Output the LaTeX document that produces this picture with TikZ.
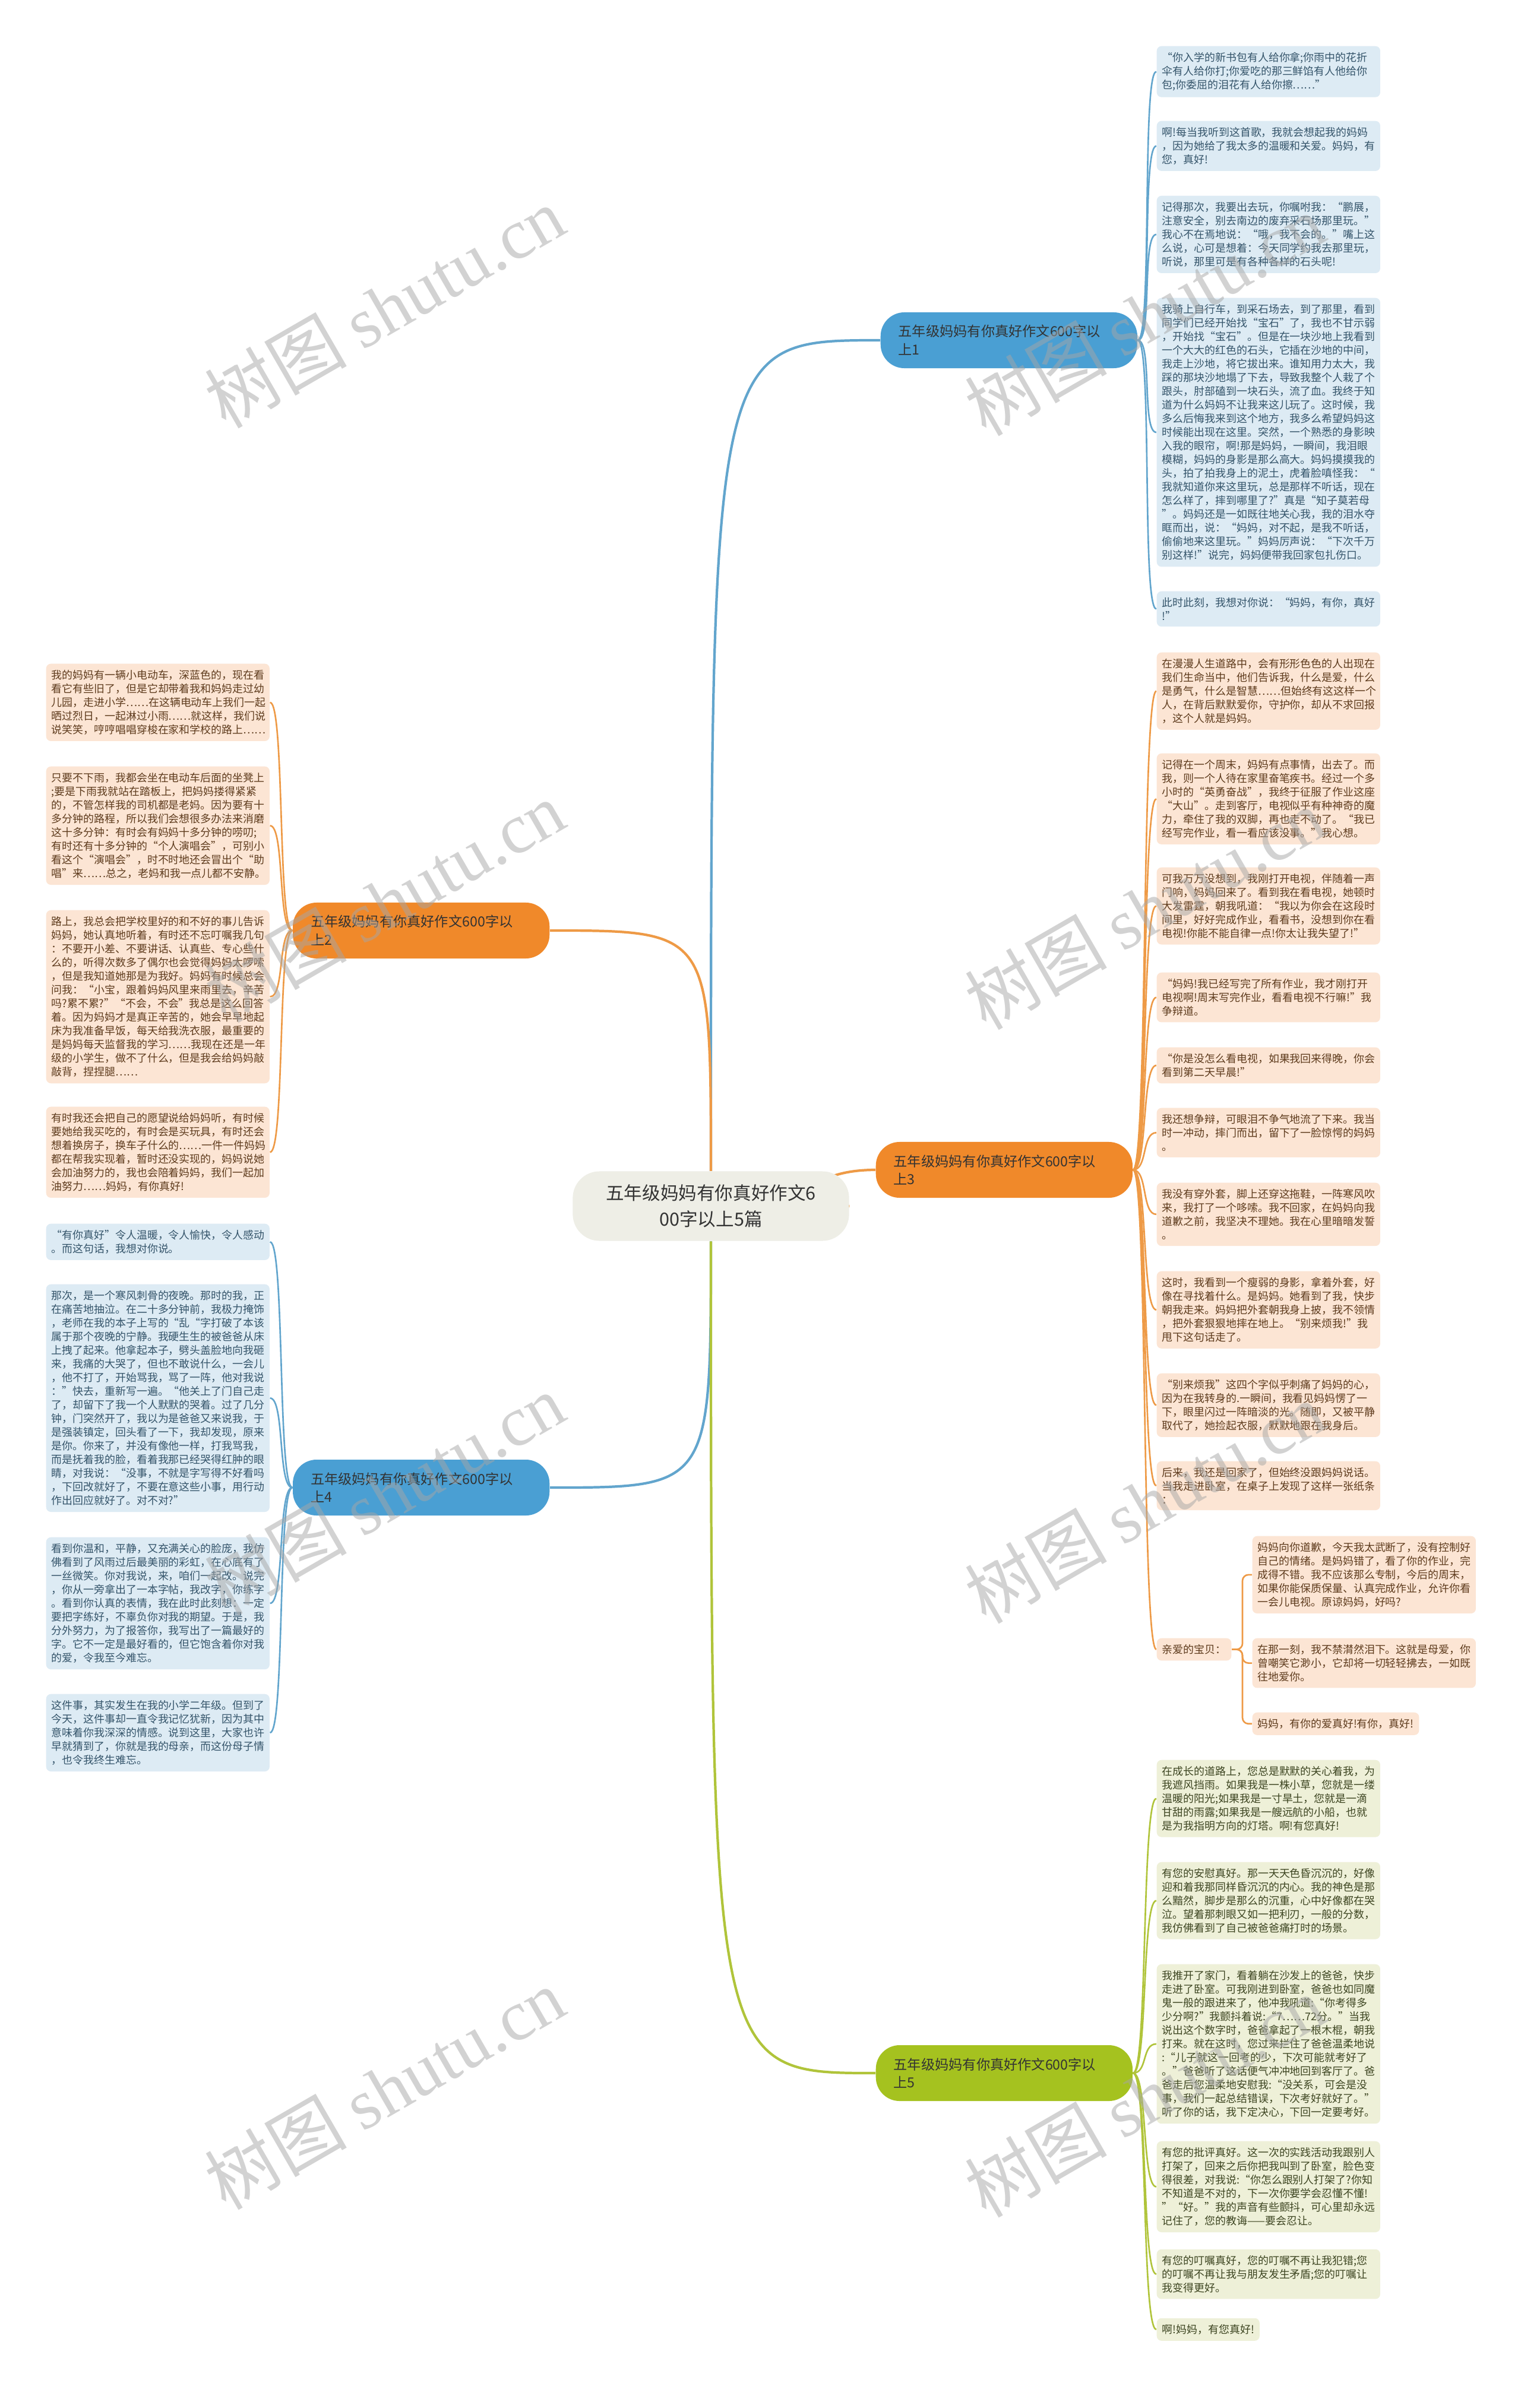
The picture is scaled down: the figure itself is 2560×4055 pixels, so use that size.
\documentclass[tikz,border=0pt]{standalone}
\usepackage{fontspec}
\setmainfont{Noto Sans CJK SC}
\newfontfamily\wmlatin{Liberation Serif}
\usetikzlibrary{backgrounds}
\definecolor{bline}{HTML}{62A5CD}
\definecolor{bnode}{HTML}{4A9FD3}
\definecolor{bleaf}{HTML}{DDEBF4}
\definecolor{btext}{HTML}{34546A}
\definecolor{oline}{HTML}{EE9A46}
\definecolor{onode}{HTML}{F0892A}
\definecolor{oleaf}{HTML}{FCE5D4}
\definecolor{otext}{HTML}{5E3B1D}
\definecolor{gline}{HTML}{B0C43A}
\definecolor{gnode}{HTML}{A5C21F}
\definecolor{gleaf}{HTML}{EEF0D8}
\definecolor{gtext}{HTML}{3D4521}
\definecolor{cfill}{HTML}{EEEEE6}
\definecolor{ctext}{HTML}{333333}
\tikzset{
  leafbase/.style={anchor=north west, rounded corners=0.08cm, inner xsep=0.09cm, inner ysep=0.105cm, align=left, font=\fontsize{5.1}{6.55}\selectfont},
  bleafbox/.style={leafbase, text width=3.58cm, fill=bleaf, text=btext},
  oleafbox/.style={leafbase, text width=3.58cm, fill=oleaf, text=otext},
  gleafbox/.style={leafbase, text width=3.58cm, fill=gleaf, text=gtext},
  branch/.style={rounded corners=0.4cm, inner xsep=0.3cm, inner ysep=0.1cm, text width=3.72cm, minimum height=0.94cm, align=left, font=\fontsize{6.6}{8.8}\selectfont, text=ctext},
  bwire/.style={draw=bline, line width=1.2pt},
  owire/.style={draw=oline, line width=1.2pt},
  gwire/.style={draw=gline, line width=1.2pt},
  twig/.style={line width=0.75pt},
  wm/.style={rotate=30, text=black!35, text opacity=0.5, font=\fontsize{34}{34}\selectfont}
}
\begin{document}
\begin{tikzpicture}[x=0.01cm, y=-0.01cm]
\useasboundingbox (0,0) rectangle (2560,4055);
\node[fill=cfill, rounded corners=0.45cm, minimum width=4.65cm, minimum height=1.17cm, align=center, font=\fontsize{8.7}{12.4}\selectfont, text=ctext] (root) at (1197,2031) {五年级妈妈有你真好作文6\\00字以上5篇};
\node[branch, anchor=west, fill=bnode] (b1) at (1482,573) {五年级妈妈有你真好作文600字以\\上1};
\node[branch, anchor=east, fill=onode] (b2) at (926,1567) {五年级妈妈有你真好作文600字以\\上2};
\node[branch, anchor=west, fill=onode] (b3) at (1474,1970) {五年级妈妈有你真好作文600字以\\上3};
\node[branch, anchor=east, fill=bnode] (b4) at (926,2505) {五年级妈妈有你真好作文600字以\\上4};
\node[branch, anchor=west, fill=gnode] (b5) at (1474,3491) {五年级妈妈有你真好作文600字以\\上5};

\node[bleafbox] (b1a) at (1947,77) {“你入学的新书包有人给你拿;你雨中的花折\\伞有人给你打;你爱吃的那三鲜馅有人他给你\\包;你委屈的泪花有人给你擦……”};
\node[bleafbox] (b1b) at (1947,203) {啊!每当我听到这首歌，我就会想起我的妈妈\\，因为她给了我太多的温暖和关爱。妈妈，有\\您，真好!};
\node[bleafbox] (b1c) at (1947,329) {记得那次，我要出去玩，你嘱咐我：“鹏展，\\注意安全，别去南边的废弃采石场那里玩。”\\我心不在焉地说：“哦，我不会的。”嘴上这\\么说，心可是想着：今天同学约我去那里玩，\\听说，那里可是有各种各样的石头呢!};
\node[bleafbox] (b1d) at (1947,501) {我骑上自行车，到采石场去，到了那里，看到\\同学们已经开始找“宝石”了，我也不甘示弱\\，开始找“宝石”。但是在一块沙地上我看到\\一个大大的红色的石头，它插在沙地的中间，\\我走上沙地，将它拔出来。谁知用力太大，我\\踩的那块沙地塌了下去，导致我整个人栽了个\\跟头，肘部磕到一块石头，流了血。我终于知\\道为什么妈妈不让我来这儿玩了。这时候，我\\多么后悔我来到这个地方，我多么希望妈妈这\\时候能出现在这里。突然，一个熟悉的身影映\\入我的眼帘，啊!那是妈妈，一瞬间，我泪眼\\模糊，妈妈的身影是那么高大。妈妈摸摸我的\\头，拍了拍我身上的泥土，虎着脸嗔怪我：“\\我就知道你来这里玩，总是那样不听话，现在\\怎么样了，摔到哪里了?”真是“知子莫若母\\”。妈妈还是一如既往地关心我，我的泪水夺\\眶而出，说：“妈妈，对不起，是我不听话，\\偷偷地来这里玩。”妈妈厉声说：“下次千万\\别这样!”说完，妈妈便带我回家包扎伤口。};
\node[bleafbox] (b1e) at (1947,995) {此时此刻，我想对你说：“妈妈，有你，真好\\!”};

\node[oleafbox] (b2a) at (77,1117) {我的妈妈有一辆小电动车，深蓝色的，现在看\\看它有些旧了，但是它却带着我和妈妈走过幼\\儿园，走进小学……在这辆电动车上我们一起\\晒过烈日，一起淋过小雨……就这样，我们说\\说笑笑，哼哼唱唱穿梭在家和学校的路上……};
\node[oleafbox] (b2b) at (77,1290) {只要不下雨，我都会坐在电动车后面的坐凳上\\;要是下雨我就站在踏板上，把妈妈搂得紧紧\\的，不管怎样我的司机都是老妈。因为要有十\\多分钟的路程，所以我们会想很多办法来消磨\\这十多分钟：有时会有妈妈十多分钟的唠叨;\\有时还有十多分钟的“个人演唱会”，可别小\\看这个“演唱会”，时不时地还会冒出个“助\\唱”来……总之，老妈和我一点儿都不安静。};
\node[oleafbox] (b2c) at (77,1532) {路上，我总会把学校里好的和不好的事儿告诉\\妈妈，她认真地听着，有时还不忘叮嘱我几句\\：不要开小差、不要讲话、认真些、专心些什\\么的，听得次数多了偶尔也会觉得妈妈太啰嗦\\，但是我知道她那是为我好。妈妈有时候总会\\问我：“小宝，跟着妈妈风里来雨里去，辛苦\\吗?累不累?”“不会，不会”我总是这么回答\\着。因为妈妈才是真正辛苦的，她会早早地起\\床为我准备早饭，每天给我洗衣服，最重要的\\是妈妈每天监督我的学习……我现在还是一年\\级的小学生，做不了什么，但是我会给妈妈敲\\敲背，捏捏腿……};
\node[oleafbox] (b2d) at (77,1863) {有时我还会把自己的愿望说给妈妈听，有时候\\要她给我买吃的，有时会是买玩具，有时还会\\想着换房子，换车子什么的……一件一件妈妈\\都在帮我实现着，暂时还没实现的，妈妈说她\\会加油努力的，我也会陪着妈妈，我们一起加\\油努力……妈妈，有你真好!};

\node[oleafbox] (b3a) at (1947,1098) {在漫漫人生道路中，会有形形色色的人出现在\\我们生命当中，他们告诉我，什么是爱，什么\\是勇气，什么是智慧……但始终有这这样一个\\人，在背后默默爱你，守护你，却从不求回报\\，这个人就是妈妈。};
\node[oleafbox] (b3b) at (1947,1268) {记得在一个周末，妈妈有点事情，出去了。而\\我，则一个人待在家里奋笔疾书。经过一个多\\小时的“英勇奋战”，我终于征服了作业这座\\“大山”。走到客厅，电视似乎有种神奇的魔\\力，牵住了我的双脚，再也走不动了。“我已\\经写完作业，看一看应该没事。”我心想。};
\node[oleafbox] (b3c) at (1947,1460) {可我万万没想到，我刚打开电视，伴随着一声\\门响，妈妈回来了。看到我在看电视，她顿时\\大发雷霆，朝我吼道：“我以为你会在这段时\\间里，好好完成作业，看看书，没想到你在看\\电视!你能不能自律一点!你太让我失望了!”};
\node[oleafbox] (b3d) at (1947,1637) {“妈妈!我已经写完了所有作业，我才刚打开\\电视啊!周末写完作业，看看电视不行嘛!”我\\争辩道。};
\node[oleafbox] (b3e) at (1947,1763) {“你是没怎么看电视，如果我回来得晚，你会\\看到第二天早晨!”};
\node[oleafbox] (b3f) at (1947,1865) {我还想争辩，可眼泪不争气地流了下来。我当\\时一冲动，摔门而出，留下了一脸惊愕的妈妈\\。};
\node[oleafbox] (b3g) at (1947,1991) {我没有穿外套，脚上还穿这拖鞋，一阵寒风吹\\来，我打了一个哆嗦。我不回家，在妈妈向我\\道歉之前，我坚决不理她。我在心里暗暗发誓\\。};
\node[oleafbox] (b3h) at (1947,2140) {这时，我看到一个瘦弱的身影，拿着外套，好\\像在寻找着什么。是妈妈。她看到了我，快步\\朝我走来。妈妈把外套朝我身上披，我不领情\\，把外套狠狠地摔在地上。“别来烦我!”我\\甩下这句话走了。};
\node[oleafbox] (b3i) at (1947,2312) {“别来烦我”这四个字似乎刺痛了妈妈的心，\\因为在我转身的.一瞬间，我看见妈妈愣了一\\下，眼里闪过一阵暗淡的光。随即，又被平静\\取代了，她捡起衣服，默默地跟在我身后。};
\node[oleafbox] (b3j) at (1947,2460) {后来，我还是回家了，但始终没跟妈妈说话。\\当我走进卧室，在桌子上发现了这样一张纸条\\：};
\node[leafbase, fill=oleaf, text=otext] (b3k) at (1947,2758) {亲爱的宝贝：};
\node[oleafbox] (b3k1) at (2108,2586) {妈妈向你道歉，今天我太武断了，没有控制好\\自己的情绪。是妈妈错了，看了你的作业，完\\成得不错。我不应该那么专制，今后的周末，\\如果你能保质保量、认真完成作业，允许你看\\一会儿电视。原谅妈妈，好吗?};
\node[oleafbox] (b3k2) at (2108,2758) {在那一刻，我不禁潸然泪下。这就是母爱，你\\曾嘲笑它渺小，它却将一切轻轻拂去，一如既\\往地爱你。};
\node[leafbase, fill=oleaf, text=otext] (b3k3) at (2108,2883) {妈妈，有你的爱真好!有你，真好!};

\node[bleafbox] (b4a) at (77,2060) {“有你真好”令人温暖，令人愉快，令人感动\\。而这句话，我想对你说。};
\node[bleafbox] (b4b) at (77,2162) {那次，是一个寒风刺骨的夜晚。那时的我，正\\在痛苦地抽泣。在二十多分钟前，我极力掩饰\\，老师在我的本子上写的“乱“字打破了本该\\属于那个夜晚的宁静。我硬生生的被爸爸从床\\上拽了起来。他拿起本子，劈头盖脸地向我砸\\来，我痛的大哭了，但也不敢说什么，一会儿\\，他不打了，开始骂我，骂了一阵，他对我说\\：”快去，重新写一遍。“他关上了门自己走\\了，却留下了我一个人默默的哭着。过了几分\\钟，门突然开了，我以为是爸爸又来说我，于\\是强装镇定，回头看了一下，我却发现，原来\\是你。你来了，并没有像他一样，打我骂我，\\而是抚着我的脸，看着我那已经哭得红肿的眼\\睛，对我说：“没事，不就是字写得不好看吗\\，下回改就好了，不要在意这些小事，用行动\\作出回应就好了。对不对?”};
\node[bleafbox] (b4c) at (77,2588) {看到你温和，平静，又充满关心的脸庞，我仿\\佛看到了风雨过后最美丽的彩虹，在心底有了\\一丝微笑。你对我说，来，咱们一起改。说完\\，你从一旁拿出了一本字帖，我改字，你练字\\。看到你认真的表情，我在此时此刻想：一定\\要把字练好，不辜负你对我的期望。于是，我\\分外努力，为了报答你，我写出了一篇最好的\\字。它不一定是最好看的，但它饱含着你对我\\的爱，令我至今难忘。};
\node[bleafbox] (b4d) at (77,2852) {这件事，其实发生在我的小学二年级。但到了\\今天，这件事却一直令我记忆犹新，因为其中\\意味着你我深深的情感。说到这里，大家也许\\早就猜到了，你就是我的母亲，而这份母子情\\，也令我终生难忘。};

\node[gleafbox] (b5a) at (1947,2963) {在成长的道路上，您总是默默的关心着我，为\\我遮风挡雨。如果我是一株小草，您就是一缕\\温暖的阳光;如果我是一寸旱土，您就是一滴\\甘甜的雨露;如果我是一艘远航的小船，也就\\是为我指明方向的灯塔。啊!有您真好!};
\node[gleafbox] (b5b) at (1947,3135) {有您的安慰真好。那一天天色昏沉沉的，好像\\迎和着我那同样昏沉沉的内心。我的神色是那\\么黯然，脚步是那么的沉重，心中好像都在哭\\泣。望着那刺眼又如一把利刃，一般的分数，\\我仿佛看到了自己被爸爸痛打时的场景。};
\node[gleafbox] (b5c) at (1947,3307) {我推开了家门，看着躺在沙发上的爸爸，快步\\走进了卧室。可我刚进到卧室，爸爸也如同魔\\鬼一般的跟进来了，他冲我吼道:“你考得多\\少分啊?”我颤抖着说:“7……72分。”当我\\说出这个数字时，爸爸拿起了一根木棍，朝我\\打来。就在这时，您过来拦住了爸爸温柔地说\\:“儿子就这一回考的少，下次可能就考好了\\。”爸爸听了这话便气冲冲地回到客厅了。爸\\爸走后您温柔地安慰我:“没关系，可会是没\\事，我们一起总结错误，下次考好就好了。”\\听了你的话，我下定决心，下回一定要考好。};
\node[gleafbox] (b5d) at (1947,3605) {有您的批评真好。这一次的实践活动我跟别人\\打架了，回来之后你把我叫到了卧室，脸色变\\得很差，对我说:“你怎么跟别人打架了?你知\\不知道是不对的，下一次你要学会忍懂不懂!\\”“好。”我的声音有些颤抖，可心里却永远\\记住了，您的教诲——要会忍让。};
\node[gleafbox] (b5e) at (1947,3787) {有您的叮嘱真好，您的叮嘱不再让我犯错;您\\的叮嘱不再让我与朋友发生矛盾;您的叮嘱让\\我变得更好。};
\node[leafbase, fill=gleaf, text=gtext] (b5f) at (1947,3903) {啊!妈妈，有您真好!};

\begin{scope}[on background layer]
\fill[white] (0,0) rectangle (2560,4055);
\draw[bwire] (root) .. controls (1197,573) .. (b1.west);
\draw[owire] (root) .. controls (1197,1567) .. (b2.east);
\draw[owire] (root) .. controls (1330,2031) and (1360,1970) .. (b3.west);
\draw[bwire] (root) .. controls (1197,2505) .. (b4.east);
\draw[gwire] (root) .. controls (1197,3491) .. (b5.west);
\foreach \n in {b1a,b1b,b1c,b1d,b1e}
  \draw[bwire,twig] (b1.east) .. controls +(25,0) and +(-25,0) .. (\n.west);
\foreach \n in {b2a,b2b,b2c,b2d}
  \draw[owire,twig] (b2.west) .. controls +(-25,0) and +(25,0) .. (\n.east);
\foreach \n in {b3a,b3b,b3c,b3d,b3e,b3f,b3g,b3h,b3i,b3j,b3k}
  \draw[owire,twig] (b3.east) .. controls +(25,0) and +(-25,0) .. (\n.west);
\foreach \n in {b3k1,b3k2,b3k3}
  \draw[owire,twig,rounded corners=0.1cm] (b3k.east) -- ++(18,0) |- (\n.west);
\foreach \n in {b4a,b4b,b4c,b4d}
  \draw[bwire,twig] (b4.west) .. controls +(-25,0) and +(25,0) .. (\n.east);
\foreach \n in {b5a,b5b,b5c,b5d,b5e,b5f}
  \draw[gwire,twig] (b5.east) .. controls +(25,0) and +(-25,0) .. (\n.west);
\end{scope}

\node[wm] (wm1) at (647,517) {树图 {\wmlatin shutu.cn}};
\node[wm] (wm2) at (1927,530) {树图 {\wmlatin shutu.cn}};
\node[wm] (wm3) at (647,1518) {树图 {\wmlatin shutu.cn}};
\node[wm] (wm4) at (1927,1530) {树图 {\wmlatin shutu.cn}};
\node[wm] (wm5) at (647,2516) {树图 {\wmlatin shutu.cn}};
\node[wm] (wm6) at (1927,2530) {树图 {\wmlatin shutu.cn}};
\node[wm] (wm7) at (647,3517) {树图 {\wmlatin shutu.cn}};
\node[wm] (wm8) at (1927,3530) {树图 {\wmlatin shutu.cn}};
\end{tikzpicture}
\end{document}
